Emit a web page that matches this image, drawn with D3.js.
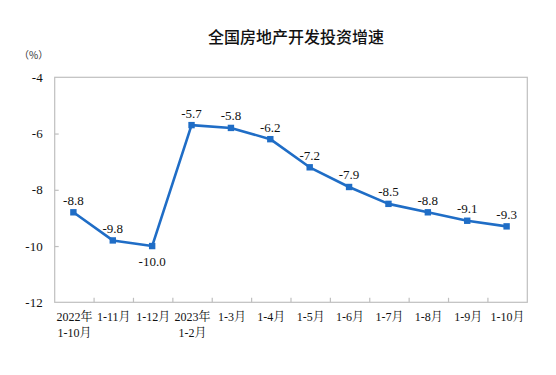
<!DOCTYPE html>
<html>
<head>
<meta charset="utf-8">
<script src="https://cdn.jsdelivr.net/npm/d3@7"></script>
<style>
  html, body { margin: 0; padding: 0; background: #fff; }
  svg { display: block; }
</style>
</head>
<body>
<svg id="chart" width="556" height="375"></svg>
<script>
// ---- data ----
const title = "全国房地产开发投资增速";
const unitLabel = "（%）";
const categories = [
  ["2022年", "1-10月"], ["1-11月"], ["1-12月"], ["2023年", "1-2月"],
  ["1-3月"], ["1-4月"], ["1-5月"], ["1-6月"], ["1-7月"], ["1-8月"], ["1-9月"], ["1-10月"]
];
const values = [-8.8, -9.8, -10.0, -5.7, -5.8, -6.2, -7.2, -7.9, -8.5, -8.8, -9.1, -9.3];
const valueLabels = ["-8.8", "-9.8", "-10.0", "-5.7", "-5.8", "-6.2", "-7.2", "-7.9", "-8.5", "-8.8", "-9.1", "-9.3"];
const labelBelow = [false, false, true, false, false, false, false, false, false, false, false, false];
const yTicks = [-12, -10, -8, -6, -4];
const yTickLabels = ["-12", "-10", "-8", "-6", "-4"];
const yDomain = [-12, -4];

// ---- layout ----
(function () {
const svg = d3.select("#chart");
const pLeft = 54.7, pRight = 527.3, pTop = 77.3, pBottom = 302.3;
const serif = "'Liberation Serif', 'Times New Roman', 'Noto Serif CJK SC', 'Noto Sans CJK SC', serif";
const axisColor = "#bfbfbf";
const lineColor = "#1f6dc6";

const keys = categories.map((c, i) => i);
const x = d3.scaleBand().domain(keys).range([pLeft, pRight]).padding(0);
const y = d3.scaleLinear().domain(yDomain).range([pBottom, pTop]);

// title
svg.append("text")
  .attr("x", 296).attr("y", 43)
  .attr("text-anchor", "middle")
  .attr("font-family", "'Noto Sans CJK SC', sans-serif")
  .attr("font-size", 16)
  .attr("font-weight", 500)
  .attr("fill", "#111")
  .text(title);

// unit
svg.append("text")
  .attr("x", 19).attr("y", 59)
  .attr("font-family", "'Noto Sans CJK SC', sans-serif")
  .attr("font-size", 10)
  .attr("fill", "#333")
  .text(unitLabel);

// plot box
svg.append("rect")
  .attr("x", pLeft).attr("y", pTop)
  .attr("width", pRight - pLeft).attr("height", pBottom - pTop)
  .attr("fill", "none").attr("stroke", axisColor).attr("stroke-width", 1.2);

// y axis
const yAxis = svg.append("g")
  .attr("transform", `translate(${pLeft},0)`)
  .call(d3.axisLeft(y).tickValues(yTicks).tickSize(-4).tickPadding(12)
    .tickFormat((d, i) => yTickLabels[i]));
yAxis.select(".domain").remove();
yAxis.selectAll(".tick line").attr("stroke", axisColor).attr("stroke-width", 1.2)
  .filter(d => d === yDomain[0] || d === yDomain[1]).remove();
yAxis.selectAll(".tick text")
  .attr("font-family", serif).attr("font-size", 13).attr("fill", "#111");

// x axis labels
const xAxis = svg.append("g")
  .attr("transform", `translate(0,${pBottom})`)
  .call(d3.axisBottom(x).tickSize(0).tickFormat(""));
xAxis.select(".domain").remove();
xAxis.selectAll(".tick text").remove();
xAxis.selectAll(".tick").each(function(d) {
  const t = d3.select(this).append("text")
    .attr("text-anchor", "middle")
    .attr("font-family", serif)
    .attr("font-size", 12)
    .attr("fill", "#111");
  categories[d].forEach((line, j) => {
    t.append("tspan").attr("x", 0).attr("y", 19 + j * 16).text(line);
  });
});

// x boundary ticks (inward)
svg.append("g").selectAll("line")
  .data(keys.slice(1))
  .join("line")
  .attr("x1", d => x(d)).attr("x2", d => x(d))
  .attr("y1", pBottom).attr("y2", pBottom - 4.5)
  .attr("stroke", axisColor).attr("stroke-width", 1.2);

// line
const cx = i => x(i) + x.bandwidth() / 2 - 1;
svg.append("path")
  .datum(values)
  .attr("fill", "none")
  .attr("stroke", lineColor)
  .attr("stroke-width", 2.6)
  .attr("stroke-linejoin", "round")
  .attr("d", d3.line().x((d, i) => cx(i)).y(d => y(d)));

// markers
svg.append("g").selectAll("rect")
  .data(values)
  .join("rect")
  .attr("x", (d, i) => cx(i) - 3.2)
  .attr("y", d => y(d) - 3.2)
  .attr("width", 6.4).attr("height", 6.4)
  .attr("fill", lineColor);

// value labels
svg.append("g").selectAll("text")
  .data(values)
  .join("text")
  .attr("x", (d, i) => cx(i))
  .attr("y", (d, i) => labelBelow[i] ? y(d) + 20 : y(d) - 7.5)
  .attr("text-anchor", "middle")
  .attr("font-family", serif)
  .attr("font-size", 13)
  .attr("fill", "#111")
  .text((d, i) => valueLabels[i]);
})();
</script>
</body>
</html>
